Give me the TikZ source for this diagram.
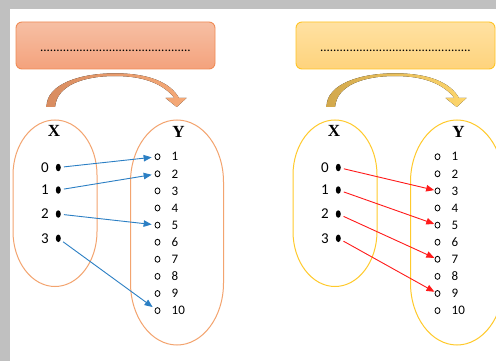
\documentclass[tikz,border=0pt]{standalone}
\usepackage{fontspec}
\setmainfont{Carlito}
\newfontfamily\setnamefont{Liberation Serif}
\usetikzlibrary{arrows.meta,shapes.geometric}

\definecolor{pageGrey}{HTML}{C0C0C0}
\definecolor{boxLtop}{HTML}{F6BFA4}
\definecolor{boxLbot}{HTML}{F4A27C}
\definecolor{boxLedge}{HTML}{F08B55}
\definecolor{boxRtop}{HTML}{FFE1A2}
\definecolor{boxRbot}{HTML}{FED37C}
\definecolor{boxRedge}{HTML}{FFC424}
\definecolor{curveLa}{HTML}{D88C60}
\definecolor{curveLb}{HTML}{F6AA78}
\definecolor{curveRa}{HTML}{D2A84C}
\definecolor{curveRb}{HTML}{FED66C}
\definecolor{setL}{HTML}{F3A46F}
\definecolor{setR}{HTML}{FFCA2C}
\definecolor{mapBlue}{HTML}{2B7FC4}
\definecolor{mapRed}{HTML}{FF1A1A}

\tikzset{
  titlebox/.style={rounded corners=6pt, line width=0.9pt},
  dotsline/.style={anchor=base, inner sep=0pt, font=\fontsize{13}{13}\selectfont},
  setshape/.style={line width=1pt},
  setname/.style={inner sep=0pt, font=\setnamefont\bfseries\fontsize{17}{17}\selectfont},
  xdot/.style={ellipse, fill=black, inner sep=0pt, minimum width=5pt, minimum height=7.5pt},
  ydot/.style={ellipse, draw=black, line width=0.8pt, inner sep=0pt, minimum width=5pt, minimum height=6pt},
  xnum/.style={anchor=east, inner sep=0pt, font=\fontsize{15}{15}\selectfont},
  ynum/.style={anchor=west, inner sep=0pt, font=\fontsize{13}{13}\selectfont},
  mapping/.style={line width=0.9pt, -{Triangle[length=8pt,width=6.5pt]}},
}

% tall rounded outline of a set: centre x, top, bottom, half width, end height
\newcommand\setoutline[6]{%
  \draw[setshape,#1] ({#2-#5},{#3+#6})
    arc[start angle=180, end angle=360, x radius=#5, y radius=#6]
    -- ({#2+#5},{#4-#6})
    arc[start angle=0, end angle=180, x radius=#5, y radius=#6]
    -- cycle;}

% one panel: title box, bent arrow, the sets X and Y and their elements
\newcommand\panelbase[5]{%
  \draw[titlebox, draw=#2, top color=#3, bottom color=#4]
    (16,22) rectangle (215,69);
  \node[dotsline] (title) at (115.5,52)
    {..............................................};
  \fill[left color=#5a, right color=#5b]
    (46.5,107) .. controls (46.5,84) and (80,73.3) .. (115,73.3)
    .. controls (148,73.3) and (170,82) .. (179,98)
    -- (186.5,98) -- (176.7,107) -- (165.5,98) -- (174.5,98)
    .. controls (164,85) and (146,76) .. (115,76)
    .. controls (84,76) and (57,85) .. (55,107) -- cycle;
  \setoutline{draw=#1}{55}{120}{286.5}{42}{55}
  \setoutline{draw=#1}{177}{120}{345}{46.5}{62}
  \node[setname] (X) at (54,131) {X};
  \node[setname] (Y) at (178.5,132) {Y};
  \foreach \n/\yy in {0/167.5,1/190,2/214,3/238.3}{
    \node[xdot] (x\n) at (58.3,\yy) {};
    \node[xnum] (xl\n) at (49,\yy) {\n};
  }
  \foreach \n in {1,...,10}{
    \pgfmathsetmacro\yy{156.7+(\n-1)*17.1}
    \node[ydot] (y\n) at (157.5,\yy) {};
    \node[ynum] (yl\n) at (171.5,\yy) {\n};
  }}

\begin{document}
\begin{tikzpicture}[x=1pt,y=-1pt]
  \useasboundingbox (0,0) rectangle (496,361);
  \fill[pageGrey] (0,0) rectangle (496,361);
  \fill[white] (10,9) rectangle (496,361);
  \clip (0,0) rectangle (496,361);

  % left panel
  \begin{scope}[name prefix=L-]
    \panelbase{setL}{boxLedge}{boxLtop}{boxLbot}{curveL}
    \draw[mapping, mapBlue, shorten <=3pt, shorten >=3pt] (x0) -- (y1);
    \draw[mapping, mapBlue, shorten <=3pt, shorten >=3pt] (x1) -- (y2);
    \draw[mapping, mapBlue, shorten <=3pt, shorten >=3pt] (x2) -- (y5);
    \draw[mapping, mapBlue, shorten <=3pt, shorten >=3pt] (x3) -- (y10);
  \end{scope}

  % right panel
  \begin{scope}[xshift=280pt, name prefix=R-]
    \panelbase{setR}{boxRedge}{boxRtop}{boxRbot}{curveR}
    \draw[mapping, mapRed, shorten <=3pt, shorten >=0.5pt] (x0) -- (y3);
    \draw[mapping, mapRed, shorten <=3pt, shorten >=0.5pt] (x1) -- (y5);
    \draw[mapping, mapRed, shorten <=3pt, shorten >=0.5pt] (x2) -- (y7);
    \draw[mapping, mapRed, shorten <=3pt, shorten >=0.5pt] (x3) -- (y9);
  \end{scope}
\end{tikzpicture}
\end{document}
